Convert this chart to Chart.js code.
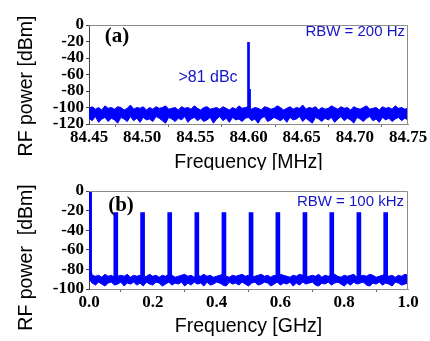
<!DOCTYPE html>
<html>
<head>
<meta charset="utf-8">
<script src="https://cdn.jsdelivr.net/npm/chart.js@4.4.0/dist/chart.umd.min.js"></script>
<style>
  html, body { margin: 0; padding: 0; background: #fff; }
  #wrap { position: relative; width: 430px; height: 341px; }
  canvas { position: absolute; left: 0; }
  #graficoA { top: 0; }
  #graficoB { top: 170px; }
</style>
</head>
<body>
<div id="wrap">
  <canvas id="graficoA" width="430" height="170"></canvas>
  <canvas id="graficoB" width="430" height="171"></canvas>
</div>
<script>
// ============================
// DADOS - PAINEL (a)
// ============================
const spanA = [84.45, 84.75];            // MHz, varredura
const xTicksA = [84.45, 84.50, 84.55, 84.60, 84.65, 84.70, 84.75];
const yTicksA = [0, -20, -40, -60, -80, -100, -120];
// envoltoria do ruido (topo / base)
const ruidoTopoA = [
  -101,-99,-102,-100,-103,-98,-101,-100,-102,-99,
  -100,-103,-101,-97,-102,-100,-101,-99,-103,-100,
  -102,-99,-101,-100,-98,-102,-101,-100,-103,-99,
  -101,-100,-102,-98,-101,-103,-100,-99,-102,-101,
  -100,-102,-99,-101,-103,-100,-102,-98,-101,-100,
  -99,-102,-100,-101,-103,-99,-100,-102,-101,-98,
  -100,-103,-101,-99,-102,-100,-101,-97,-102,-100,
  -101,-99,-103,-100,-102,-101,-98,-100,-102,-99,
  -101,-100,-103,-99,-101,-102,-100,-98,-102,-101,
  -100,-103,-99,-101,-100,-102,-98,-101,-100,-102,
  -101
];
const ruidoBaseA = [
  -113,-116,-111,-118,-114,-112,-117,-113,-115,-119,
  -112,-114,-117,-111,-116,-113,-118,-112,-115,-114,
  -117,-111,-113,-116,-119,-112,-114,-117,-113,-115,
  -111,-118,-114,-112,-116,-113,-117,-115,-112,-119,
  -114,-111,-116,-113,-118,-112,-115,-114,-117,-113,
  -112,-116,-114,-119,-113,-111,-117,-115,-112,-114,
  -116,-113,-118,-112,-115,-114,-111,-117,-113,-116,
  -119,-112,-114,-117,-113,-115,-112,-118,-114,-111,
  -116,-113,-115,-119,-112,-114,-117,-113,-111,-116,
  -114,-118,-112,-115,-113,-117,-114,-112,-116,-113,
  -115
];
// portadora em 84.60 MHz e ombro logo ao lado
const portadoraFreqs = [84.600, 84.601];
const portadoraTopos = [-21, -78];

// ============================
// DADOS - PAINEL (b)
// ============================
const spanB = [0, 1.0];                  // GHz, varredura
const xTicksB = [0, 0.2, 0.4, 0.6, 0.8, 1.0];
const yTicksB = [0, -20, -40, -60, -80, -100];
const ruidoTopoB = [
  -70,-86,-87,-86,-88,-85,-87,-86,-88,-87,
  -86,-87,-85,-88,-86,-87,-86,-88,-87,-85,
  -87,-86,-88,-86,-87,-85,-86,-88,-87,-86,
  -85,-87,-86,-88,-86,-87,-85,-87,-86,-88,
  -87,-86,-85,-87,-88,-86,-87,-86,-85,-87,
  -86,-88,-87,-86,-85,-87,-86,-88,-86,-87,
  -85,-86,-87,-88,-86,-87,-85,-86,-88,-87,
  -86,-87,-85,-88,-86,-87,-86,-85,-87,-88,
  -86,-87,-86,-85,-88,-87,-86,-87,-85,-86,
  -88,-87,-86,-85,-87,-86,-88,-86,-87,-85,
  -86
];
const ruidoBaseB = [
  -90,-94,-96,-93,-95,-97,-94,-93,-96,-95,
  -93,-97,-94,-95,-93,-96,-94,-97,-93,-95,
  -96,-93,-94,-97,-95,-93,-96,-94,-95,-93,
  -97,-94,-96,-93,-95,-94,-97,-93,-96,-95,
  -93,-94,-96,-97,-93,-95,-94,-96,-93,-95,
  -97,-94,-93,-96,-95,-93,-94,-97,-95,-93,
  -96,-94,-95,-93,-97,-94,-96,-93,-95,-94,
  -93,-96,-97,-94,-95,-93,-96,-94,-93,-95,
  -97,-94,-96,-93,-95,-94,-93,-96,-97,-94,
  -95,-93,-96,-94,-95,-97,-93,-94,-96,-95,
  -94
];
// DC + harmonicos do pente (GHz) e niveis
const combFreqs = [0.002, 0.084, 0.168, 0.253, 0.338, 0.423, 0.508, 0.592, 0.677, 0.761, 0.846, 0.930];
const combTops  = [0, -22, -22, -22, -22, -22, -22, -22, -22, -22, -22, -22];
const combBase  = [-90, -90, -90, -90, -90, -90, -90, -90, -90, -90, -90, -90];

// ============================
// ESTILOS
// ============================
const AZUL = "#0000ff";
const AZUL_TEXTO = "#1414c8";
const FONTE_TICK = { family: "'Liberation Serif', 'DejaVu Serif', serif", size: 17, weight: "bold" };
const FONTE_TITULO = "19.5px 'Liberation Sans', Arial, sans-serif";

function pontos(trace, span) {
  const passo = (span[1] - span[0]) / (trace.length - 1);
  return trace.map((v, i) => ({ x: span[0] + i * passo, y: v }));
}

// faixa de ruido: topo preenchido ate a base
function faixa(topo, fundo, span) {
  return [{
    type: "line", data: pontos(topo, span),
    borderColor: AZUL, backgroundColor: AZUL, borderWidth: 1,
    pointRadius: 0, tension: 0, fill: "+1"
  }, {
    type: "line", data: pontos(fundo, span),
    borderColor: AZUL, borderWidth: 1,
    pointRadius: 0, tension: 0, fill: false
  }];
}

// textos livres + moldura
function pluginTextos(itens) {
  return {
    id: "textos",
    afterDraw(chart) {
      const ctx = chart.ctx;
      const a = chart.chartArea;
      ctx.save();
      ctx.strokeStyle = "#8c8c8c";
      ctx.lineWidth = 1;
      ctx.beginPath();
      ctx.moveTo(a.left, a.top + 0.5);
      ctx.lineTo(a.right - 0.5, a.top + 0.5);
      ctx.lineTo(a.right - 0.5, a.bottom);
      ctx.stroke();
      itens.forEach(t => {
        ctx.save();
        ctx.font = t.font;
        ctx.fillStyle = t.cor || "#000";
        ctx.textAlign = t.align || "center";
        ctx.textBaseline = "middle";
        ctx.translate(t.x, t.y);
        if (t.rot) ctx.rotate(t.rot);
        ctx.fillText(t.texto, 0, 0);
        ctx.restore();
      });
      ctx.restore();
    }
  };
}

function eixos(span, xTicks, yTicks, yMin, casas, altX) {
  return {
    x: {
      type: "linear",
      min: span[0], max: span[1],
      offset: false,
      afterBuildTicks: s => { s.ticks = xTicks.map(v => ({ value: v })); },
      afterFit: s => { s.height = altX; },
      grid: { display: true, drawOnChartArea: false, tickLength: 3, color: "#666" },
      border: { color: "#8c8c8c" },
      ticks: { font: FONTE_TICK, color: "#000", padding: 0, maxRotation: 0, autoSkip: false,
               callback: v => v.toFixed(casas) }
    },
    y: {
      type: "linear",
      min: yMin, max: 0,
      afterBuildTicks: s => { s.ticks = yTicks.map(v => ({ value: v })); },
      afterFit: s => { s.width = 89; },
      grid: { display: true, drawOnChartArea: false, tickLength: 3, color: "#444" },
      border: { color: "#444" },
      ticks: { font: FONTE_TICK, color: "#000", padding: 2, autoSkip: false }
    }
  };
}

const base = {
  responsive: false,
  animation: false,
  events: [],
  plugins: { legend: { display: false }, tooltip: { enabled: false } }
};

// ============================
// GRAFICO (a)
// ============================
new Chart(document.getElementById("graficoA"), {
  type: "line",
  data: {
    datasets: [
      ...faixa(ruidoTopoA, ruidoBaseA, spanA),
      {
        type: "bar",
        data: portadoraFreqs.map((f, i) => ({ x: f, y: [-105, portadoraTopos[i]] })),
        backgroundColor: AZUL, barThickness: 2, borderWidth: 0
      }
    ]
  },
  options: {
    ...base,
    layout: { padding: { top: 25, right: 22, left: 0, bottom: 0 } },
    scales: eixos(spanA, xTicksA, yTicksA, -120, 2, 46)
  },
  plugins: [pluginTextos([
    { texto: "RF power [dBm]", font: FONTE_TITULO, x: 27, y: 86, rot: -Math.PI / 2 },
    { texto: "Frequency [MHz]", font: FONTE_TITULO, x: 248.5, y: 163 },
    { texto: "(a)", font: "bold 21px 'Liberation Serif', serif", x: 117, y: 37 },
    { texto: ">81 dBc", font: "16px 'Liberation Sans', Arial, sans-serif", cor: AZUL_TEXTO, x: 208, y: 78 },
    { texto: "RBW = 200 Hz", font: "15px 'Liberation Sans', Arial, sans-serif", cor: AZUL_TEXTO, x: 405, y: 32, align: "right" }
  ])]
});

// ============================
// GRAFICO (b)
// ============================
new Chart(document.getElementById("graficoB"), {
  type: "line",
  data: {
    datasets: [
      ...faixa(ruidoTopoB, ruidoBaseB, spanB),
      {
        type: "bar",
        data: combFreqs.map((f, i) => ({ x: f, y: [combBase[i], combTops[i]] })),
        backgroundColor: AZUL, barThickness: 4, borderWidth: 0
      }
    ]
  },
  options: {
    ...base,
    layout: { padding: { top: 21, right: 22, left: 0, bottom: 0 } },
    scales: eixos(spanB, xTicksB, yTicksB, -100, 1, 52)
  },
  plugins: [pluginTextos([
    { texto: "RF power  [dBm]", font: FONTE_TITULO, x: 27, y: 87.5, rot: -Math.PI / 2 },
    { texto: "Frequency [GHz]", font: FONTE_TITULO, x: 248.5, y: 157 },
    { texto: "(b)", font: "bold 21px 'Liberation Serif', serif", x: 121, y: 36 },
    { texto: "RBW = 100 kHz", font: "15px 'Liberation Sans', Arial, sans-serif", cor: AZUL_TEXTO, x: 404, y: 32, align: "right" }
  ])]
});
</script>
</body>
</html>
